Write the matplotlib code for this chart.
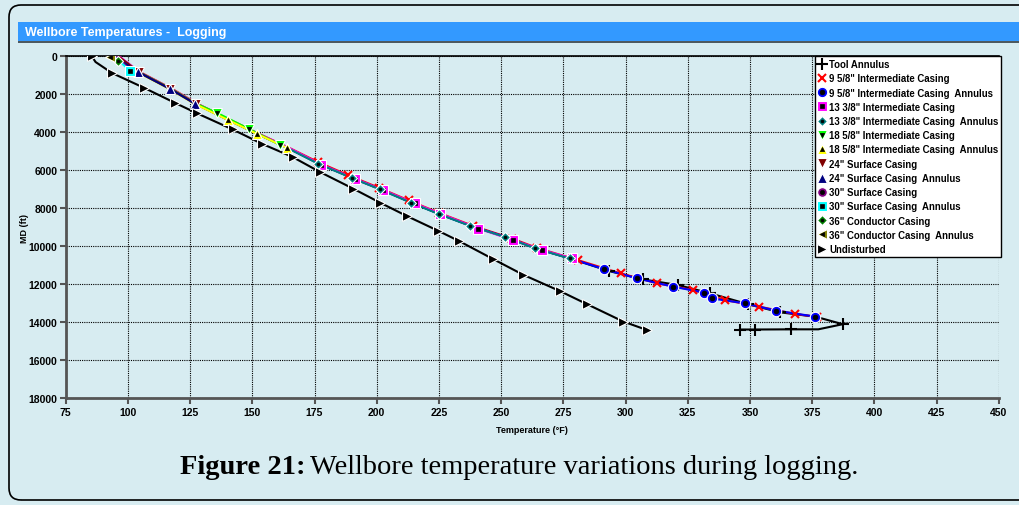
import matplotlib
matplotlib.use('Agg')
import matplotlib.pyplot as plt
from matplotlib.lines import Line2D
from matplotlib.legend_handler import HandlerTuple
from matplotlib.patches import FancyBboxPatch, Rectangle

plt.rcParams['font.family'] = ['Liberation Sans', 'DejaVu Sans']

# ---- data (temperature in F, measured depth in ft) ----
tool_T = [95, 104.5, 117.2, 127.3, 140.4, 152.1, 164.4, 176.8, 190.3, 201.6, 214.0, 225.5, 237.8,
          251.7, 264.1, 277.8, 293.5, 306.9, 321.2, 334.0, 349.4, 362.1, 376.5, 387.3, 377.5,
          366.5, 352.0, 346.0]
tool_MD = [0, 840, 1716, 2500, 3344, 4080, 4830, 5653, 6404, 7003, 7700, 8314, 8923, 9501, 10115,
           10640, 11306, 11742, 12041, 12477, 13054, 13474, 13710, 14100, 14370, 14370, 14380, 14380]

c958_T = [96, 105.0, 117.8, 128.0, 141.0, 152.7, 165.0, 176.4, 188.4, 201.1, 212.8, 225.0, 238.7,
          254.4, 264.3, 280.9, 298.1, 312.8, 327.3, 340.0, 353.8, 368.1, 377.0]
c958_MD = [0, 840, 1716, 2500, 3344, 4080, 4830, 5564, 6250, 6930, 7580, 8240, 8925, 9590, 10080,
           10729, 11427, 11952, 12304, 12829, 13175, 13563, 13710]

a958_T = [95.5, 104.5, 117.2, 127.3, 140.4, 152.1, 164.4, 176.8, 190.3, 201.6, 214.0, 225.5, 237.8,
          251.7, 264.1, 277.8, 291.4, 304.7, 319.2, 331.7, 334.6, 348.0, 360.5, 376.2]
a958_MD = [0, 840, 1716, 2500, 3344, 4080, 4830, 5653, 6404, 7003, 7700, 8314, 8923, 9501, 10115,
           10640, 11201, 11690, 12125, 12440, 12740, 13002, 13385, 13700]

c1338_T = [96.5, 104.8, 117.6, 127.8, 140.8, 152.5, 164.8, 177.8, 191.3, 202.7, 215.2, 225.4,
           240.8, 254.9, 266.6, 278.6]
c1338_MD = [0, 840, 1716, 2500, 3344, 4080, 4830, 5700, 6450, 7050, 7740, 8278, 9065, 9679,
            10204, 10640]

a1338_T = [95.2, 104.3, 117.0, 127.1, 140.2, 151.9, 164.2, 176.5, 190.0, 201.3, 213.7, 225.2,
           237.5, 251.4, 263.8, 277.5]
a1338_MD = [0, 840, 1716, 2500, 3344, 4080, 4830, 5653, 6404, 7003, 7700, 8314, 8923, 9501,
            10115, 10640]

c1858_T = [95.8, 104.6, 117.4, 127.5, 136.0, 148.5, 161.0]
c1858_MD = [0, 840, 1716, 2500, 2990, 3815, 4655]

a1858_T = [94.8, 104.0, 116.7, 126.8, 140.1, 151.8, 164.1]
a1858_MD = [0, 840, 1716, 2500, 3344, 4080, 4830]

c24_T = [96.2, 104.4, 117.1, 127.2]
c24_MD = [0, 840, 1716, 2500]

a24_T = [94.5, 104.2, 116.9, 127.0]
a24_MD = [0, 840, 1716, 2500]

c30_T = [95.5, 98.5, 101.0]
c30_MD = [0, 400, 756]

a30_T = [94.2, 97.8, 100.8]
a30_MD = [0, 400, 756]

c36_T = [94.0, 96.0]
c36_MD = [0, 250]

a36_T = [92.8, 95.0]
a36_MD = [50, 250]

und_T = [85.5, 87.0, 93.6, 106.5, 118.9, 127.6, 142.1, 153.8, 166.2, 177.2, 190.6, 201.3, 212.0,
         224.8, 233.2, 246.9, 258.9, 273.7, 284.6, 299.1, 308.5]
und_MD = [0, 300, 880, 1660, 2450, 2990, 3850, 4600, 5300, 6090, 6970, 7700, 8400, 9190, 9730,
          10680, 11500, 12360, 13050, 13960, 14400]

labels = ['Tool Annulus', '9 5/8" Intermediate Casing', '9 5/8" Intermediate Casing  Annulus',
          '13 3/8" Intermediate Casing', '13 3/8" Intermediate Casing  Annulus',
          '18 5/8" Intermediate Casing', '18 5/8" Intermediate Casing  Annulus',
          '24" Surface Casing', '24" Surface Casing  Annulus', '30" Surface Casing',
          '30" Surface Casing  Annulus', '36" Conductor Casing', '36" Conductor Casing  Annulus',
          'Undisturbed']

x_ticks = [75, 100, 125, 150, 175, 200, 225, 250, 275, 300, 325, 350, 375, 400, 425, 450]
y_ticks = [0, 2000, 4000, 6000, 8000, 10000, 12000, 14000, 16000, 18000]

# ---- styles: (T, MD, colour, marker, size, centre marker, centre size, markevery) ----
tool_marks = [16, 17, 18, 19, 20, 21, 23, 25, 26, 27]
styles = [
    (tool_T, tool_MD, 'black', '+', 8, None, 0, tool_marks),
    (c958_T, c958_MD, '#ff0000', 'x', 6, None, 0, slice(7, None)),
    (a958_T, a958_MD, '#0000ff', 'o', 7.5, 'o', 3.5, slice(16, None)),
    (c1338_T, c1338_MD, '#ff00ff', 's', 6.5, 's', 3, slice(7, None)),
    (a1338_T, a1338_MD, '#008080', 'D', 5, 'o', 2, slice(7, None)),
    (c1858_T, c1858_MD, '#00ff00', 'v', 7.5, 'v', 3, slice(4, None)),
    (a1858_T, a1858_MD, '#ffff00', '^', 7.5, '^', 3, slice(4, None)),
    (c24_T, c24_MD, '#800000', 'v', 7.5, None, 0, slice(1, None)),
    (a24_T, a24_MD, '#000080', '^', 7.5, None, 0, slice(1, None)),
    (c30_T, c30_MD, '#800080', 'o', 7, 'o', 3, [2]),
    (a30_T, a30_MD, '#00ffff', 's', 7, 's', 3.5, [2]),
    (c36_T, c36_MD, '#008000', 'D', 5, 'o', 2, [1]),
    (a36_T, a36_MD, '#808000', '<', 7, '<', 3, [0]),
    (und_T, und_MD, 'black', '>', 7.5, None, 0, [0] + list(range(2, 21))),
]

bg = '#d7ecf1'
fig = plt.figure(figsize=(10.19, 5.06), dpi=100)
fig.patch.set_facecolor(bg)

# outer rounded frame and title bar (pixel coordinates)
fig.add_artist(FancyBboxPatch((9, 5), 1040, 495, boxstyle='round,pad=0,rounding_size=12',
                              transform=None, facecolor='none', edgecolor='black', lw=1.2))
fig.add_artist(Rectangle((18, 506 - 42), 1010, 19.5, transform=None, facecolor='#3399ff',
                         edgecolor='none'))
fig.add_artist(Rectangle((18, 506 - 43.5), 1010, 1.8, transform=None, facecolor='#4d5a60',
                         edgecolor='none'))
fig.text(25 / 1019, 1 - 33 / 506, 'Wellbore Temperatures -  Logging', color='white',
         fontweight='bold', fontsize=9, va='center', ha='left')

ax = fig.add_axes([65.7 / 1019, 1 - 399.3 / 506, 933 / 1019, 342 / 506])
ax.set_facecolor(bg)
ax.set_xlim(75, 450)
ax.set_ylim(18000, 0)
ax.set_xticks(x_ticks)
ax.set_yticks(y_ticks)
ax.grid(True, color='black', linestyle=(0, (1, 1)), linewidth=0.8)
ax.set_axisbelow(True)
for side in ['left', 'bottom']:
    ax.spines[side].set_color('#555555')
    ax.spines[side].set_linewidth(2)
ax.spines['top'].set_color('black')
ax.spines['top'].set_linewidth(1.2)
ax.spines['right'].set_visible(False)
ax.tick_params(direction='out', length=4, width=1.5, color='#555555', labelsize=7.5, pad=2)
for lbl in ax.get_xticklabels() + ax.get_yticklabels():
    lbl.set_fontweight('bold')
ax.set_xlabel('Temperature (°F)', fontsize=6.5, fontweight='bold', labelpad=6)
ax.set_ylabel('MD (ft)', fontsize=6.5, fontweight='bold')
ax.yaxis.set_label_coords(-0.039, 0.5)

# lines first, markers on top
for i, (t, md, col, mk, ms, cm, cs, every) in enumerate(styles):
    ax.plot(t, md, color=col, lw=1.5, zorder=3 + i * 0.01)

handles = []
for i, (t, md, col, mk, ms, cm, cs, every) in enumerate(styles):
    z = 4 + i * 0.01
    if mk in ['x', '+']:
        kw = dict(marker=mk, ms=ms, mec=col, mew=1.5, ls='none')
    else:
        kw = dict(marker=mk, ms=ms, mfc=col, mec='white', mew=0.8, ls='none')
    ax.plot(t, md, markevery=every, zorder=z, **kw)
    parts = [Line2D([], [], **kw)]
    if cm:
        ckw = dict(marker=cm, ms=cs, mfc='black', mec='black', mew=0.5, ls='none')
        ax.plot(t, md, markevery=every, zorder=z + 0.005, **ckw)
        parts.append(Line2D([], [], **ckw))
    handles.append(tuple(parts))

leg = ax.legend(handles, labels, loc='upper right', bbox_to_anchor=(1.003, 1.0),
                handler_map={tuple: HandlerTuple(ndivide=1, pad=0)}, frameon=True, fancybox=False,
                edgecolor='black', framealpha=1, prop=dict(weight='bold', size=6.9),
                handlelength=0.9, handletextpad=0.3, labelspacing=0.44, borderpad=0.3,
                borderaxespad=0)
leg.get_frame().set_linewidth(1)
leg.set_zorder(10)

cap_bold = fig.text(180 / 1019, 1 - 468 / 506, 'Figure 21:', fontsize=20.5,
                    family='Liberation Serif', fontweight='bold', ha='left', va='center')
fig.canvas.draw()
bb = cap_bold.get_window_extent()
fig.text((bb.x1 + 5) / 1019, 1 - 468 / 506, 'Wellbore temperature variations during logging.',
         fontsize=20.5, family='Liberation Serif', ha='left', va='center')

fig.savefig('out.png', dpi=100, facecolor=bg)
